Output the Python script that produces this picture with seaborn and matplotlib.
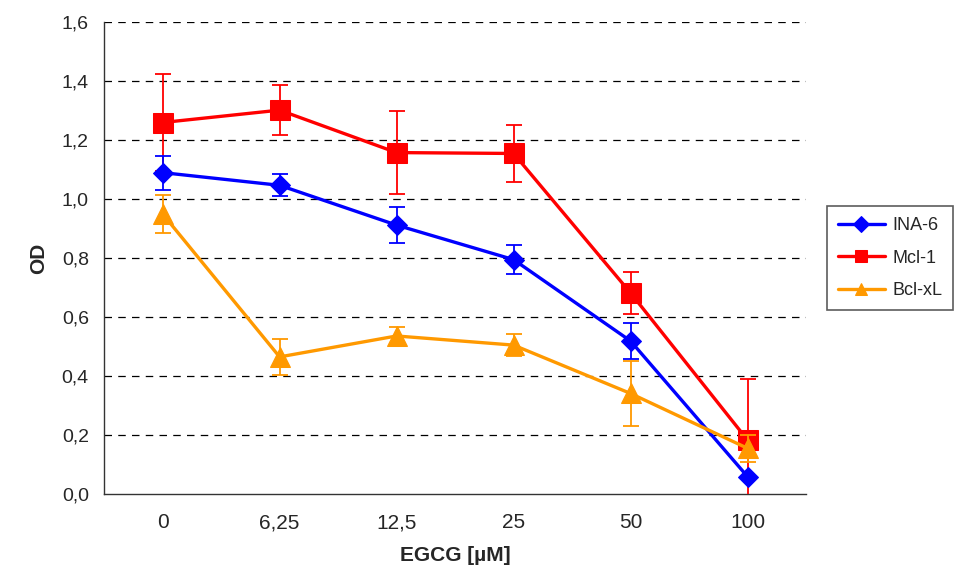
import numpy as np
import pandas as pd
import matplotlib
matplotlib.use('Agg')
import matplotlib.pyplot as plt
import seaborn as sns

# Values
doses = ['0', '6,25', '12,5', '25', '50', '100']
ina6 = [1.09, 1.047, 0.912, 0.795, 0.519, 0.059]
ina6_err = [0.058, 0.037, 0.062, 0.05, 0.06, 0.0]
mcl1 = [1.26, 1.302, 1.158, 1.155, 0.682, 0.183]
mcl1_err = [0.164, 0.085, 0.14, 0.097, 0.07, 0.207]
bclxl = [0.95, 0.465, 0.536, 0.505, 0.341, 0.155]
bclxl_err = [0.065, 0.06, 0.03, 0.037, 0.11, 0.045]

series = [
    ('INA-6', ina6, ina6_err, '#0000FF', 'D', 10, 4),
    ('Mcl-1', mcl1, mcl1_err, '#FF0000', 's', 14, 3),
    ('Bcl-xL', bclxl, bclxl_err, '#FF9900', '^', 14, 5),
]

sns.set_style('white')
plt.rcParams['font.family'] = ['Liberation Sans', 'DejaVu Sans']

fig = plt.figure(figsize=(9.55, 5.86), dpi=100)
ax = fig.add_axes([0.109, 0.157, 0.735, 0.805])

pos = np.arange(len(doses))
for name, vals, errs, color, marker, ms, z in series:
    df = pd.DataFrame({'pos': pos, 'od': vals})
    sns.lineplot(data=df, x='pos', y='od', ax=ax, color=color, marker=marker,
                 markersize=ms, markeredgecolor=color, linewidth=2.4,
                 label=name, zorder=z)
    ax.errorbar(pos, vals, yerr=errs, fmt='none', ecolor=color,
                elinewidth=1.3, capsize=6, capthick=1.3, zorder=z)

ax.set_xlim(-0.5, len(doses) - 0.5)
ax.set_ylim(0, 1.6)
ax.set_yticks(np.arange(0, 1.61, 0.2))
ax.set_yticklabels([f'{v:.1f}'.replace('.', ',') for v in np.arange(0, 1.61, 0.2)])
ax.set_xticks(pos)
ax.set_xticklabels(doses)
ax.set_xticks(np.arange(-0.5, len(doses)), minor=True)
ax.tick_params(axis='x', which='major', length=0, pad=14, labelsize=15)
ax.tick_params(axis='x', which='minor', length=5, width=1, color='#444444', direction='out')
ax.tick_params(axis='y', length=5, width=1, color='#444444', direction='out', labelsize=14, pad=6)

for y in np.arange(0.2, 1.61, 0.2):
    ax.axhline(y, color='black', linestyle=(0, (6, 5)), linewidth=0.9, zorder=1)

for side in ['top', 'right']:
    ax.spines[side].set_visible(False)
for side in ['left', 'bottom']:
    ax.spines[side].set_color('#333333')
    ax.spines[side].set_linewidth(1)

ax.set_xlabel('EGCG [µM]', fontsize=15, fontweight='bold', labelpad=10)
ax.set_ylabel('OD', fontsize=15, fontweight='bold', labelpad=10)

leg = ax.legend(loc='center left', bbox_to_anchor=(1.03, 0.5), frameon=True,
                fancybox=False, edgecolor='#333333', fontsize=13,
                handlelength=2.6, borderpad=0.6, labelspacing=0.85,
                handletextpad=0.4, borderaxespad=0)
leg.get_frame().set_linewidth(1.2)
for h in leg.legend_handles:
    h.set_markersize(8)

fig.savefig('out.png', dpi=100)
